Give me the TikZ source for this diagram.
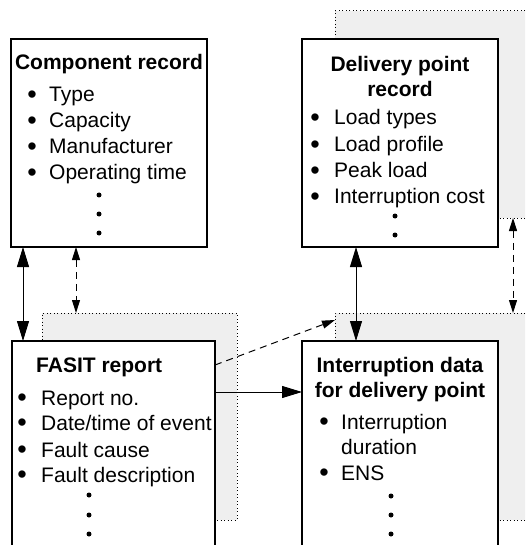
\documentclass[tikz,border=0pt]{standalone}
\usepackage{fontspec}
\setmainfont{Liberation Sans}
\usetikzlibrary{arrows.meta}
\definecolor{shadegray}{HTML}{EFEFEF}
\begin{document}
\begin{tikzpicture}[x=1pt,y=-1pt,
  box/.style={draw, line width=2.5pt, fill=white, rectangle, anchor=north west, inner sep=0pt, outer sep=0pt},
  shadebox/.style={draw, line width=1pt, dash pattern=on 1pt off 2.5pt, fill=shadegray, rectangle, anchor=north west, inner sep=0pt, outer sep=0pt},
  ttl/.style={font=\fontsize{21}{26}\selectfont\bfseries, anchor=base, inner sep=0pt},
  itm/.style={font=\fontsize{21}{26}\selectfont, anchor=base west, inner sep=0pt},
  bul/.style={font=\fontsize{27}{30}\selectfont, anchor=base, inner sep=0pt, yshift=-1.8pt},
  vdot/.style={circle, fill=black, inner sep=0pt, minimum size=5pt},
  conn/.style={line width=1pt},
  dconn/.style={line width=1pt, dash pattern=on 7pt off 5pt},
  bigtip/.tip={Triangle[length=20pt,width=12pt]},
  smalltip/.tip={Triangle[length=13pt,width=8pt]}
]
\useasboundingbox (0,0) rectangle (525,545);
\clip (0,0) rectangle (525,545);

% shadows
\node[shadebox, minimum width=240pt, minimum height=207pt] (dshade) at (335,11) {};
\node[shadebox, minimum width=195pt, minimum height=207pt] (fshade) at (42,313) {};
\node[shadebox, minimum width=240pt, minimum height=207pt] (ishade) at (335,313) {};

% boxes
\node[box, minimum width=196pt, minimum height=208pt] (comp) at (11,39) {};
\node[box, minimum width=196pt, minimum height=208pt] (deliv) at (302,39) {};
\node[box, minimum width=203pt, minimum height=230pt] (fasit) at (12,341) {};
\node[box, minimum width=196pt, minimum height=230pt] (intr) at (302,341) {};

% Component record
\node[ttl] (ct) at (109,70) {Component record};
\foreach \t/\y [count=\i] in {{Type}/102, {Capacity}/128, {Manufacturer}/154, {Operating time}/180}{
  \node[bul] (cb\i) at (32,\y) {•};
  \node[itm] (ci\i) at (49,\y) {\t};
}
\node[vdot] (cd1) at (99,195) {};
\node[vdot] (cd2) at (99,214) {};
\node[vdot] (cd3) at (99,233) {};

% Delivery point record
\node[ttl] (dt1) at (400,72) {Delivery point};
\node[ttl] (dt2) at (400,97) {record};
\foreach \t/\y [count=\i] in {{Load types}/125, {Load profile}/152, {Peak load}/178, {Interruption cost}/204}{
  \node[bul] (db\i) at (315,\y) {•};
  \node[itm] (di\i) at (334,\y) {\t};
}
\node[vdot] (dd1) at (395,216) {};
\node[vdot] (dd2) at (395,235) {};

% FASIT report
\node[ttl, anchor=base west] (ft) at (36,372) {FASIT report};
\node[bul] (fb1) at (22,405) {•};
\node[itm] (fi1) at (41,405) {Report no.};
\node[bul] (fb2) at (22,430) {•};
\node[itm] (fi2) at (41,430) {Date/time of event};
\node[bul] (fb3) at (22,457) {•};
\node[itm] (fi3) at (41,457) {Fault cause};
\node[bul] (fb4) at (22,482) {•};
\node[itm] (fi4) at (41,482) {Fault description};
\node[vdot] (fd1) at (89,495) {};
\node[vdot] (fd2) at (89,515) {};
\node[vdot] (fd3) at (89,534) {};

% Interruption data
\node[ttl] (it1) at (400,372) {Interruption data};
\node[ttl] (it2) at (400,397) {for delivery point};
\node[bul] (ib1) at (324,429) {•};
\node[itm] (ii1) at (341,429) {Interruption};
\node[itm] (ii1b) at (341,454) {duration};
\node[bul] (ib2) at (324,480) {•};
\node[itm] (ii2) at (341,480) {ENS};
\node[vdot] (id1) at (391,496) {};
\node[vdot] (id2) at (391,515) {};
\node[vdot] (id3) at (391,534) {};

% connectors
\draw[conn, {bigtip}-{bigtip}] ([xshift=12pt]comp.south west) -- ([xshift=11pt]fasit.north west);
\draw[dconn, {smalltip}-{smalltip}] ([xshift=65pt]comp.south west) -- ([xshift=34pt]fshade.north west);
\draw[conn, {bigtip}-{bigtip}] ([xshift=54pt]deliv.south west) -- ([xshift=54pt]intr.north west);
\draw[dconn, {smalltip}-{smalltip}] ([xshift=178pt]dshade.south west) -- ([xshift=178pt]ishade.north west);
\draw[conn, -{bigtip}] ([yshift=-51pt]fasit.north east) -- ([yshift=-51pt]intr.north west);
\draw[dconn, -{smalltip}] ([yshift=-24pt]fasit.north east) -- ([yshift=-7pt]ishade.north west);
\end{tikzpicture}
\end{document}
